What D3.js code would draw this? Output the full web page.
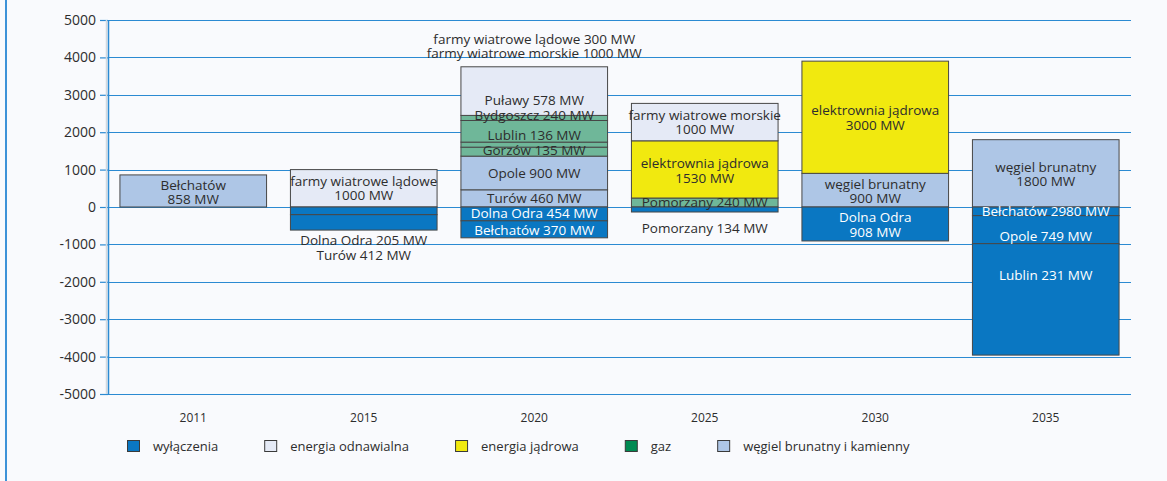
<!DOCTYPE html>
<html>
<head>
<meta charset="utf-8">
<script src="https://cdn.jsdelivr.net/npm/d3@7"></script>
<style>
  body { margin: 0; background: #f9fafd; }
  #chart { width: 1167px; height: 481px; }
  text { font-family: 'Open Sans', sans-serif; fill: #2d2d2d; }
</style>
</head>
<body>
<div id="chart"></div>
<script>
// 年份和刻度
const years = ['2011', '2015', '2020', '2025', '2030', '2035'];
const yTicks = [5000, 4000, 3000, 2000, 1000, 0, -1000, -2000, -3000, -4000, -5000];

const kinds = ['off', 'renew', 'nuclear', 'gas', 'coal'];
const kindNames = ['wyłączenia', 'energia odnawialna', 'energia jądrowa', 'gaz', 'węgiel brunatny i kamienny'];

// segments, stacked from zero outward (MW)
const segs2011 = [['coal', 858]];
const segs2015 = [['renew', 1000], ['off', -205], ['off', -412]];
const segs2020 = [['coal', 460], ['coal', 900], ['gas', 240], ['gas', 135], ['gas', 578], ['gas', 136], ['renew', 1300], ['off', -370], ['off', -454]];
const segs2025 = [['gas', 240], ['nuclear', 1530], ['renew', 1000], ['off', -134]];
const segs2030 = [['coal', 900], ['nuclear', 3000], ['off', -908]];
const segs2035 = [['coal', 1800], ['off', -231], ['off', -749], ['off', -2980]];

// labels: text lines + MW level of the text centre
const labels2011 = [[['Bełchatów', '858 MW'], 400]];
const labels2015 = [[['farmy wiatrowe lądowe', '1000 MW'], 495], [['Dolna Odra 205 MW', 'Turów 412 MW'], -1085]];
const labels2020 = [
    [['farmy wiatrowe lądowe 300 MW', 'farmy wiatrowe morskie 1000 MW'], 4300],
    [['Puławy 578 MW'], 2860], [['Bydgoszcz 240 MW'], 2450], [['Lublin 136 MW'], 1920],
    [['Gorzów 135 MW'], 1525], [['Opole 900 MW'], 905], [['Turów 460 MW'], 245],
    [['Dolna Odra 454 MW'], -165], [['Bełchatów 370 MW'], -615]];
const labels2025 = [[['farmy wiatrowe morskie', '1000 MW'], 2260], [['elektrownia jądrowa', '1530 MW'], 965],
    [['Pomorzany 240 MW'], 125], [['Pomorzany 134 MW'], -570]];
const labels2030 = [[['elektrownia jądrowa', '3000 MW'], 2380], [['węgiel brunatny', '900 MW'], 420], [['Dolna Odra', '908 MW'], -475]];
const labels2035 = [[['węgiel brunatny', '1800 MW'], 880], [['Bełchatów 2980 MW'], -105],
    [['Opole 749 MW'], -775], [['Lublin 231 MW'], -1815]];

const allSegs = [segs2011, segs2015, segs2020, segs2025, segs2030, segs2035];
const allLabels = [labels2011, labels2015, labels2020, labels2025, labels2030, labels2035];

const barColor = {off: '#0a77c2', renew: '#e5eaf6', nuclear: '#f1e90f', gas: '#6fb799', coal: '#aec6e6'};
const legendColor = {off: '#0a77c2', renew: '#e5eaf6', nuclear: '#f1e90f', gas: '#008a52', coal: '#aec6e6'};

let DrawChart = function (id) {
    this.id = id
    this.svgWidth = 1167
    this.svgHeight = 481

    this.svg = d3.select('#' + id).append('svg')
        .attr('width', this.svgWidth)
        .attr('height', this.svgHeight)

    this.svg.append('rect')
        .attr('width', this.svgWidth)
        .attr('height', this.svgHeight)
        .attr('fill', '#f9fafd')

    // 左边框
    this.svg.append('line')
        .attr('x1', 6).attr('x2', 6)
        .attr('y1', 0).attr('y2', this.svgHeight)
        .attr('stroke', '#3d92d8')
        .attr('stroke-width', 2)
}

DrawChart.prototype.draw = function () {
    const left = 108, right = 1131, top = 20, bottom = 394;

    const xScale = d3.scaleBand()
        .domain(years)
        .range([left, right])
        .paddingInner(0.14)
        .paddingOuter(0.07);

    const yScale = d3.scaleLinear()
        .domain([-5000, 5000])
        .range([bottom, top]);

    const g = this.svg.append('g');

    // 网格线
    g.append('g').selectAll('line')
        .data(yTicks)
        .join('line')
        .attr('x1', left)
        .attr('x2', right)
        .attr('y1', d => Math.round(yScale(d)) + 0.5)
        .attr('y2', d => Math.round(yScale(d)) + 0.5)
        .attr('stroke', '#2b8ad2')
        .attr('stroke-width', 1.2);

    const yAxis = d3.axisLeft(yScale)
        .tickValues(yTicks)
        .tickSize(8)
        .tickPadding(4)
        .tickFormat(d => String(d));   // 用普通连字符

    const yAxisG = g.append('g')
        .attr('transform', `translate(${left},0)`)
        .call(yAxis);
    yAxisG.select('.domain').remove();
    yAxisG.selectAll('.tick line').attr('stroke', '#2b8ad2').attr('stroke-width', 1.2);
    yAxisG.selectAll('.tick text')
        .attr('font-family', "'Open Sans', sans-serif")
        .attr('font-size', 14)
        .attr('fill', '#2d2d2d');

    g.append('line')
        .attr('x1', left - 1.5).attr('x2', left - 1.5)
        .attr('y1', top).attr('y2', bottom)
        .attr('stroke', '#d3d8de').attr('stroke-width', 1.5);
    g.append('line')
        .attr('x1', left + 0.5).attr('x2', left + 0.5)
        .attr('y1', top).attr('y2', bottom)
        .attr('stroke', '#2b8ad2').attr('stroke-width', 1.5);

    // 堆叠的柱子
    const rects = [];
    years.forEach((year, i) => {
        let pos = 0, neg = 0;
        allSegs[i].forEach(([kind, mw]) => {
            let y0, y1;
            if (mw >= 0) { y0 = pos; y1 = pos + mw; pos = y1; }
            else { y0 = neg; y1 = neg + mw; neg = y1; }
            rects.push({year, kind, y0, y1});
        });
    });

    g.append('g').selectAll('rect')
        .data(rects)
        .join('rect')
        .attr('x', d => xScale(d.year))
        .attr('width', xScale.bandwidth())
        .attr('y', d => yScale(Math.max(d.y0, d.y1)))
        .attr('height', d => Math.abs(yScale(d.y0) - yScale(d.y1)))
        .attr('fill', d => barColor[d.kind])
        .attr('stroke', '#474747')
        .attr('stroke-width', 1);

    // 标签
    const lineH = 14.5;
    const labelRows = [];
    years.forEach((year, i) => {
        const offMin = d3.min(rects.filter(r => r.year === year && r.kind === 'off'), r => r.y1) || 0;
        allLabels[i].forEach(([lines, at]) => {
            const white = at < 0 && at > offMin;
            lines.forEach((t, k) => {
                labelRows.push({year, t, white, y: yScale(at) + (k - (lines.length - 1) / 2) * lineH});
            });
        });
    });

    g.append('g').selectAll('text')
        .data(labelRows)
        .join('text')
        .attr('x', d => xScale(d.year) + xScale.bandwidth() / 2)
        .attr('y', d => d.y)
        .attr('dy', '0.35em')
        .attr('text-anchor', 'middle')
        .attr('font-size', 13.5)
        .style('fill', d => d.white ? '#ffffff' : '#2d2d2d')
        .text(d => d.t);

    // x 轴年份
    const xAxis = d3.axisBottom(xScale).tickSize(0).tickPadding(0);
    const xAxisG = g.append('g')
        .attr('transform', `translate(0,${bottom + 19})`)
        .call(xAxis);
    xAxisG.select('.domain').remove();
    xAxisG.selectAll('.tick text')
        .attr('font-family', "'Open Sans', sans-serif")
        .attr('font-size', 12)
        .attr('fill', '#2d2d2d');

    // 图例
    const legend = this.svg.append('g').attr('transform', 'translate(127,440)');
    let lx = 0;
    kinds.forEach((k, i) => {
        const item = legend.append('g').attr('transform', `translate(${lx},0)`);
        item.append('rect')
            .attr('x', 0.5).attr('y', 0.5)
            .attr('width', 12).attr('height', 11)
            .attr('fill', legendColor[k])
            .attr('stroke', '#3a3a3a')
            .attr('stroke-width', 1);
        const t = item.append('text')
            .attr('x', 26)
            .attr('y', 6)
            .attr('dy', '0.35em')
            .attr('font-size', 13)
            .text(kindNames[i]);
        lx += 26 + t.node().getComputedTextLength() + 46;
    });
}

const chart = new DrawChart('chart');
chart.draw();
</script>
</body>
</html>
